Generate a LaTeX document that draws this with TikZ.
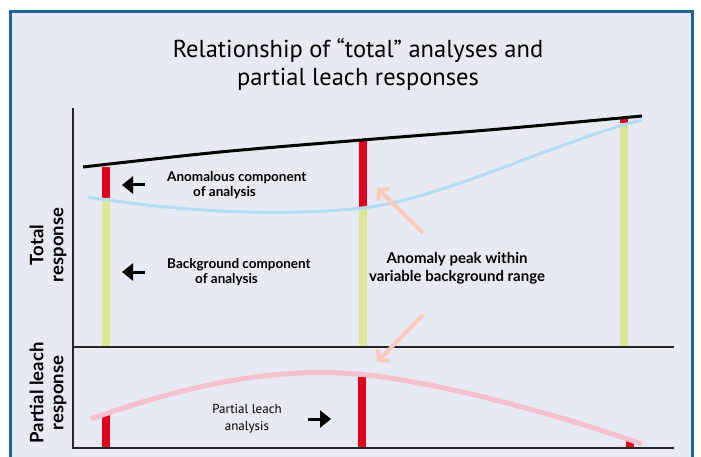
\documentclass[tikz,border=0pt]{standalone}
\usepackage{fontspec}
\setmainfont{PT Sans}
\newfontfamily\labelfont{Lato}
\usetikzlibrary{arrows.meta}
\usetikzlibrary{positioning}

\definecolor{framebl}{HTML}{1F62A0}
\definecolor{panel}{HTML}{E7EAF2}
\definecolor{peakred}{HTML}{E2001F}
\definecolor{bggreen}{HTML}{DDE697}
\definecolor{rangebl}{HTML}{B4DCF4}
\definecolor{leachpk}{HTML}{F7C0CE}
\definecolor{salmon}{HTML}{FAC9B9}

\tikzset{
	note/.style={font=\labelfont\bfseries\fontsize{13.5}{15}\selectfont, inner sep=0pt},
	axlabel/.style={font=\labelfont\bfseries\fontsize{18.5}{20}\selectfont, align=center, rotate=90, inner sep=0pt},
	pointer/.style={line width=3pt, -{Triangle[length=11pt,width=17pt]}},
	hint/.style={draw=salmon, line width=4pt, -{Straight Barb[length=7pt,width=16pt]}},
	bar/.style={line width=8pt},
	axis/.style={line width=2pt, draw=black!85},
}

\begin{document}
\begin{tikzpicture}[x=1pt,y=-1pt]

	% frame and panel
	\useasboundingbox (0,0) rectangle (701,457);
	\fill[white] (0,0) rectangle (701,457);
	\begin{scope}
		\clip (0,0) rectangle (701,457);
		\draw[framebl, line width=3pt, fill=panel] (10,12) rectangle (692,480);
	\end{scope}

	% title
	\node (title) [font=\fontsize{24.5}{28}\selectfont, align=center] at (358,64)
		{Relationship of “total” analyses and\\partial leach responses};

	% axis labels
	\node (totresp) [axlabel] at (48,245) {Total\\response};
	\node (leachresp) [axlabel] at (48,393) {Partial leach\\response};

	% bars: anomalous part on top of the background part
	\draw[bar, bggreen] (106,198) -- (106,347);
	\draw[bar, peakred] (106,167) -- (106,198);
	\draw[bar, bggreen] (363,208) -- (363,347);
	\draw[bar, peakred] (363,140) -- (363,208);
	\draw[bar, bggreen] (624,122) -- (624,347);
	\draw[bar, peakred] (624,118) -- (624,123);

	\draw[bar, peakred] (106,415) -- (106,448);
	\draw[bar, peakred] (362,377) -- (362,448);
	\draw[bar, peakred] (630,441) -- (630,448);

	% curves
	\draw[line width=3pt] plot[smooth] coordinates {(83,167) (220,152) (362,140) (500,129) (642,116)};
	\draw[rangebl, line width=3pt] (88,197) .. controls (200,215) and (300,215) .. (362,208)
		.. controls (440,200) and (560,140) .. (642,120);
	\draw[leachpk, line width=5pt] (91,419) .. controls (200,380) and (280,370) .. (340,373)
		.. controls (420,376) and (560,415) .. (642,444);

	% axes
	\draw[axis] (73,108) -- (73,448) -- (674,448);
	\draw[axis] (73,347) -- (674,347);

	% labels and pointers
	\node (anom) [note, align=left, anchor=west] at (167,185)
		{Anomalous component\\\hspace*{26pt}of analysis};
	\node (backgr) [note, align=left, anchor=west] at (167,272)
		{Background component\\\hspace*{28pt}of analysis};
	\node (peak) [note, font=\labelfont\bfseries\fontsize{15}{18}\selectfont, align=center] at (457,268)
		{Anomaly peak within\\variable background range};
	\node (leach) [font=\fontsize{13}{17}\selectfont, align=center, inner sep=0pt] at (247,419)
		{Partial leach\\analysis};

	\coordinate [left=22pt of anom.west] (anomtail);
	\coordinate [left=22pt of backgr.west] (backtail);
	\draw[pointer] (anomtail) -- ++(-23,0);
	\draw[pointer] (backtail) -- ++(-23,0);
	\coordinate [right=61pt of leach.center] (leachtail);
	\draw[pointer] (leachtail) -- ++(23,0);

	\coordinate (up) at (423,233);
	\coordinate (down) at (423,315);
	\draw[hint] (up) -- (377,188);
	\draw[hint] (down) -- (377,362);

\end{tikzpicture}
\end{document}
